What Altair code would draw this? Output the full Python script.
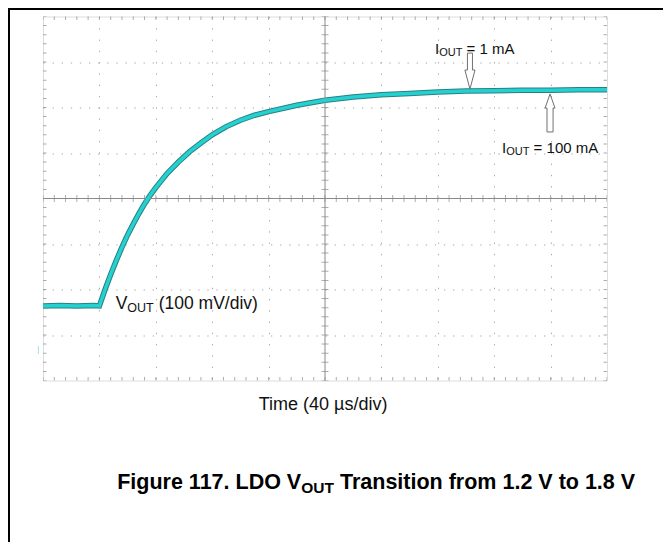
import altair as alt
import pandas as pd

# ---- trace (x in time divisions, y in voltage divisions)
time_div = [0.0, 0.3, 0.6, 0.9, 1.0, 1.1, 1.2, 1.3, 1.4, 1.5, 1.6, 1.7, 1.8, 1.9, 2.0,
            2.2, 2.4, 2.6, 2.8, 3.0, 3.25, 3.5, 3.75, 4.0, 4.5, 5.0, 5.5, 6.0, 6.5,
            7.0, 7.5, 8.0, 8.5, 9.0, 9.5, 10.0]
vout_div = [1.64, 1.65, 1.64, 1.65, 1.64, 2.00, 2.33, 2.64, 2.93, 3.20, 3.44, 3.67, 3.88, 4.07, 4.24,
            4.55, 4.80, 5.03, 5.22, 5.40, 5.58, 5.72, 5.83, 5.91, 6.05, 6.16, 6.23, 6.28, 6.31,
            6.34, 6.36, 6.37, 6.38, 6.38, 6.39, 6.39]

# ---- graticule
grid_t = [1, 2, 3, 4, 6, 7, 8, 9]
grid_v = [1, 2, 3, 5, 6, 7]
minor_t = [round(0.2 * i, 1) for i in range(51)]
minor_v = [round(0.2 * i, 1) for i in range(41)]

# ---- annotation texts
right_txt = ["I", "I", "V"]
right_t = [7.025, 8.213, 1.496]
right_v = [7.176, 4.993, 1.565]
right_fs = [15, 15, 17.5]

left_txt = ["OUT", "= 1 mA", "OUT", "= 100 mA", "OUT", "(100 mV/div)"]
left_t = [7.025, 7.511, 8.213, 8.699, 1.496, 2.051]
left_v = [7.132, 7.176, 4.956, 4.993, 1.516, 1.565]
left_fs = [11, 15, 11, 15, 12.5, 17.5]

axis_title = ["Time (40 µs/div)"]
cap_right = ["Figure 117. LDO V"]
cap_left = ["OUT", "Transition from 1.2 V to 1.8 V"]
cap_left_t = [4.578, 5.266]
cap_left_v = [-2.473, -2.385]
cap_left_fs = [15.5, 21.5]

W, H = 564, 364
FONT = "Liberation Sans"

xs = alt.Scale(domain=[0, 10], nice=False, zero=False)
ys = alt.Scale(domain=[0, 8], nice=False, zero=False)
GRID = "#a8a8a8"
X = alt.X("t:Q", scale=xs, axis=alt.Axis(values=grid_t, grid=True, gridColor=GRID,
                                         gridDash=[1.3, 9.98], gridWidth=1, ticks=False,
                                         labels=False, domain=False, title=None))
Y = alt.Y("v:Q", scale=ys, axis=alt.Axis(values=grid_v, grid=True, gridColor=GRID,
                                         gridDash=[1.3, 7.8], gridWidth=1, ticks=False,
                                         labels=False, domain=False, title=None))

trace_df = pd.DataFrame({"t": time_div, "v": vout_div})
trace_outer = alt.Chart(trace_df).mark_line(color="#2a8080", strokeWidth=5.5, clip=True).encode(x=X, y=Y)
trace_inner = alt.Chart(trace_df).mark_line(color="#24d0d0", strokeWidth=3.5, clip=True).encode(x=X, y=Y)

TICK = "#8a8a8a"
vrule = alt.Chart(pd.DataFrame({"t": [5]})).mark_rule(color=TICK, strokeWidth=1).encode(x=X)
hrule = alt.Chart(pd.DataFrame({"v": [4]})).mark_rule(color=TICK, strokeWidth=1).encode(y=Y)

def vticks(vpos):
    df = pd.DataFrame({"t": minor_t, "v": [vpos] * len(minor_t)})
    return alt.Chart(df).mark_tick(orient="vertical", size=7, thickness=1, color=TICK,
                                   clip=True).encode(x=X, y=Y)

def hticks(tpos):
    df = pd.DataFrame({"v": minor_v, "t": [tpos] * len(minor_v)})
    return alt.Chart(df).mark_tick(orient="horizontal", size=7, thickness=1, color=TICK,
                                   clip=True).encode(x=X, y=Y)

tick_layers = [vticks(0), vticks(8), vticks(4), hticks(0), hticks(10), hticks(5)]

marker = alt.Chart(pd.DataFrame({"t": [-0.083], "v": [0.58], "v2": [0.76]})).mark_rule(
    color="#9fe6ee", strokeWidth=1).encode(x=X, y=Y, y2="v2:Q")

# hollow arrows
down_path = "M -0.14 -1 L 0.14 -1 L 0.14 -0.06 L 0.28 -0.06 L 0 1 L -0.28 -0.06 L -0.14 -0.06 Z"
up_path = "M -0.16 1 L 0.16 1 L 0.16 -0.26 L 0.26 -0.26 L 0 -1 L -0.26 -0.26 L -0.16 -0.26 Z"
arrow_down = alt.Chart(pd.DataFrame({"t": [7.57], "v": [6.80]})).mark_point(
    shape=down_path, size=1296, filled=True, fill="white", stroke="#707070", strokeWidth=1,
    opacity=1).encode(x=X, y=Y)
arrow_up = alt.Chart(pd.DataFrame({"t": [8.99], "v": [5.88]})).mark_point(
    shape=up_path, size=1444, filled=True, fill="white", stroke="#707070", strokeWidth=1,
    opacity=1).encode(x=X, y=Y)

rt = alt.Chart(pd.DataFrame({"t": right_t, "v": right_v, "s": right_txt, "fs": right_fs})).mark_text(
    align="right", baseline="alphabetic", font=FONT, color="#111111").encode(
    x=X, y=Y, text="s:N", size=alt.Size("fs:Q", scale=None))
lt = alt.Chart(pd.DataFrame({"t": left_t, "v": left_v, "s": left_txt, "fs": left_fs})).mark_text(
    align="left", baseline="alphabetic", font=FONT, color="#111111").encode(
    x=X, y=Y, text="s:N", size=alt.Size("fs:Q", scale=None))
xt = alt.Chart(pd.DataFrame({"t": [4.965], "v": [-0.538], "s": axis_title})).mark_text(
    align="center", baseline="middle", font=FONT, fontSize=18, color="#111111").encode(
    x=X, y=Y, text="s:N")
cr = alt.Chart(pd.DataFrame({"t": [4.578], "v": [-2.385], "s": cap_right})).mark_text(
    align="right", baseline="alphabetic", font=FONT, fontSize=21.5, fontWeight="bold",
    color="#000000").encode(x=X, y=Y, text="s:N")
cl = alt.Chart(pd.DataFrame({"t": cap_left_t, "v": cap_left_v, "s": cap_left, "fs": cap_left_fs})).mark_text(
    align="left", baseline="alphabetic", font=FONT, fontWeight="bold", color="#000000").encode(
    x=X, y=Y, text="s:N", size=alt.Size("fs:Q", scale=None))

one = pd.DataFrame({"a": [0]})
frame_left = alt.Chart(one).mark_rule(color="#000000", strokeWidth=2).encode(
    x=alt.value(-34), y=alt.value(-9), y2=alt.value(530))
frame_top = alt.Chart(one).mark_rule(color="#000000", strokeWidth=2).encode(
    x=alt.value(-35), x2=alt.value(620), y=alt.value(-7.5))

chart = alt.layer(
    trace_outer, vrule, hrule, *tick_layers, marker, trace_inner,
    arrow_down, arrow_up, rt, lt, xt, cr, cl, frame_left, frame_top
).properties(
    width=W, height=H,
    autosize=alt.AutoSizeParams(type="none"),
    padding={"left": 35, "top": 8.5, "right": 56, "bottom": 161.5},
).configure_view(stroke="#8c8c8c", strokeWidth=1.5).configure(background="white")

chart.save("out.html", embed_options={"renderer": "svg", "actions": False})
